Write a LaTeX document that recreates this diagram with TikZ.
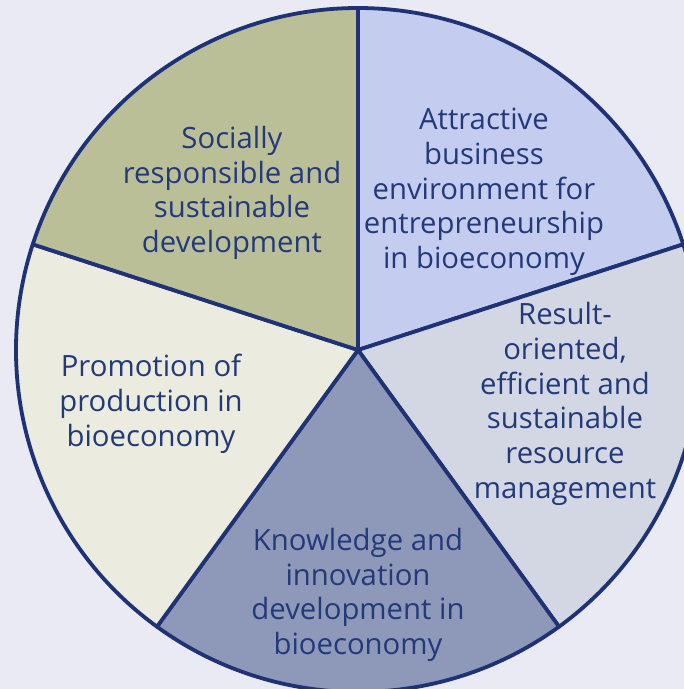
\documentclass[tikz,border=0pt]{standalone}
\usepackage{fontspec}
\setmainfont{Open Sans}
\definecolor{bgc}{HTML}{E9EAF4}
\definecolor{lnc}{HTML}{1F3275}
\definecolor{txc}{HTML}{22397A}
\definecolor{sA}{HTML}{C4CDF0}
\definecolor{sB}{HTML}{D3D7E3}
\definecolor{sC}{HTML}{8E98B8}
\definecolor{sD}{HTML}{EBEBDF}
\definecolor{sE}{HTML}{BBBF98}
\tikzset{
  slice/.style={draw=lnc, line width=3.8pt, line join=round},
  lbl/.style={text=txc, align=center, inner sep=0pt, font=\fontsize{29.3}{34.7}\selectfont}
}
\begin{document}
\begin{tikzpicture}[x=1pt,y=1pt]
\useasboundingbox (0,-689) rectangle (684,0);
\fill[bgc] (0,-689) rectangle (684,0);
\clip (0,-689) rectangle (684,0);
\coordinate (c) at (358,-350);
\filldraw[slice, fill=sA] (c) -- ++(90:342) arc[start angle=90, end angle=18, radius=342] -- cycle;
\filldraw[slice, fill=sB] (c) -- ++(18:342) arc[start angle=18, end angle=-54, radius=342] -- cycle;
\filldraw[slice, fill=sC] (c) -- ++(-54:342) arc[start angle=-54, end angle=-126, radius=342] -- cycle;
\filldraw[slice, fill=sD] (c) -- ++(-126:342) arc[start angle=-126, end angle=-198, radius=342] -- cycle;
\filldraw[slice, fill=sE] (c) -- ++(162:342) arc[start angle=162, end angle=90, radius=342] -- cycle;
\node[lbl] (tA) at (484,-192) {Attractive\\business\\environment for\\entrepreneurship\\in bioeconomy};
\node[lbl] (tB) at (565,-404) {Result-\\oriented,\\efficient and\\sustainable\\resource\\management};
\node[lbl] (tC) at (358,-595) {Knowledge and\\innovation\\development in\\bioeconomy};
\node[lbl] (tD) at (151,-404) {Promotion of\\production in\\bioeconomy};
\node[lbl] (tE) at (232,-193) {Socially\\responsible and\\sustainable\\development};
\end{tikzpicture}
\end{document}
